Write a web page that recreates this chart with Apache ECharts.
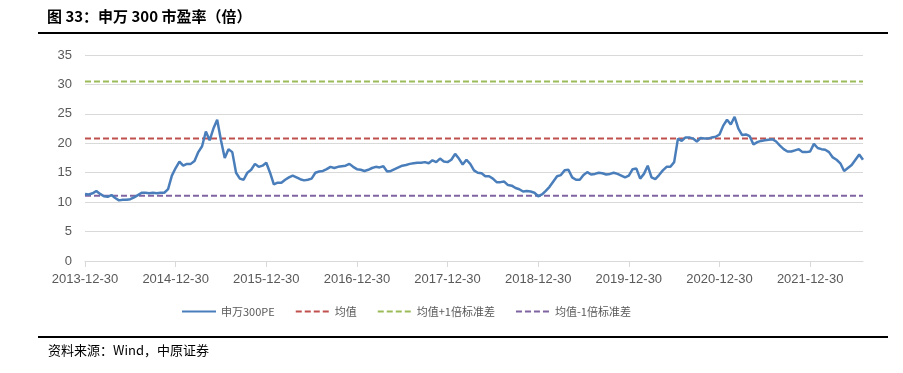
<!DOCTYPE html>
<html>
<head>
<meta charset="utf-8">
<script src="https://cdn.jsdelivr.net/npm/echarts@6/dist/echarts.min.js"></script>
<style>
html,body{margin:0;padding:0;background:#fff;}
#c{width:903px;height:373px;}
</style>
</head>
<body>
<div id="c"></div>
<script>
// Semi-monthly readings of 申万300 PE (倍)
var pe2014 = [11.4, 11.3, 11.5, 11.9, 11.4, 11.0, 10.9, 11.2, 10.7, 10.3, 10.4, 10.4, 10.5, 10.8, 11.2, 11.6, 11.6, 11.5, 11.6, 11.5, 11.6, 11.6, 12.2, 14.5, 15.8];
var pe2015 = [16.9, 16.2, 16.5, 16.5, 17.0, 18.5, 19.5, 22.0, 20.5, 22.5, 24.0, 20.5, 17.5, 19.0, 18.5, 15.0, 14.0, 13.8, 15.0, 15.5, 16.5, 16.0, 16.2, 16.7];
var pe2016 = [15.0, 13.0, 13.3, 13.3, 13.8, 14.2, 14.5, 14.2, 13.9, 13.7, 13.8, 14.0, 15.0, 15.2, 15.3, 15.6, 16.0, 15.8, 16.0, 16.1, 16.2, 16.5, 16.0, 15.6];
var pe2017 = [15.5, 15.3, 15.5, 15.8, 16.0, 15.9, 16.1, 15.2, 15.3, 15.6, 15.9, 16.2, 16.3, 16.5, 16.6, 16.7, 16.7, 16.8, 16.6, 17.1, 16.8, 17.4, 16.9, 16.8];
var pe2018 = [17.2, 18.2, 17.4, 16.4, 17.2, 16.5, 15.4, 15.0, 14.9, 14.4, 14.4, 14.0, 13.4, 13.4, 13.5, 12.9, 12.8, 12.4, 12.2, 11.8, 11.9, 11.8, 11.6, 11.0];
var pe2019 = [11.3, 11.9, 12.6, 13.5, 14.4, 14.6, 15.4, 15.5, 14.2, 13.8, 13.8, 14.6, 15.1, 14.7, 14.8, 15.0, 14.9, 14.7, 14.8, 15.0, 14.8, 14.5, 14.2, 14.5];
var pe2020 = [15.6, 15.7, 14.0, 14.8, 16.2, 14.2, 13.9, 14.6, 15.4, 16.0, 16.0, 16.8, 20.8, 20.4, 21.0, 21.0, 20.8, 20.3, 20.9, 20.8, 20.8, 21.0, 21.1, 21.5];
var pe2021 = [23.0, 24.0, 23.2, 24.5, 22.5, 21.4, 21.5, 21.2, 19.8, 20.2, 20.4, 20.5, 20.6, 20.7, 20.3, 19.6, 19.0, 18.6, 18.6, 18.8, 19.0, 18.5, 18.5, 18.6];
var pe2022 = [19.9, 19.2, 19.0, 18.9, 18.5, 17.6, 17.2, 16.6, 15.3, 15.8, 16.3, 17.2, 18.1, 17.2];

var meanPE = 20.8;
var upperPE = 30.5;
var lowerPE = 11.1;

var seriesNames = ['申万300PE', '均值', '均值+1倍标准差', '均值-1倍标准差'];
var yTicks = [0, 5, 10, 15, 20, 25, 30, 35];

var peValues = [].concat(pe2014, pe2015, pe2016, pe2017, pe2018, pe2019, pe2020, pe2021, pe2022);

// category dates: 2013-12-30 then the 15th and month-end of each month
var dates = ['2013-12-30'];
(function(){
  var y = 2014, m = 1;
  while (dates.length < peValues.length) {
    var mm = (m < 10 ? '0' : '') + m;
    dates.push(y + '-' + mm + '-15');
    if (dates.length < peValues.length) dates.push(y + '-' + mm + '-' + (m === 2 ? '28' : '30'));
    m++; if (m > 12) { m = 1; y++; }
  }
})();

var first = dates[0], last = dates[dates.length - 1];
function hline(v){ return [[first, v], [last, v]]; }

var chart = echarts.init(document.getElementById('c'), null, {renderer: 'canvas'});
var isYear = function(idx, val){ return /12-30$/.test(val); };

chart.setOption({
  animation: false,
  backgroundColor: '#ffffff',
  textStyle: {fontFamily: 'Liberation Sans, Arial, sans-serif'},
  grid: {left: 85, right: 40, top: 55, bottom: 112, containLabel: false},
  xAxis: {
    type: 'category',
    data: dates,
    boundaryGap: false,
    axisLine: {lineStyle: {color: '#d9d9d9', width: 1}},
    axisTick: {show: true, interval: isYear, length: 6, lineStyle: {color: '#d9d9d9'}},
    axisLabel: {interval: isYear, color: '#595959', fontSize: 13, margin: 12, fontFamily: 'Liberation Sans'},
    splitLine: {show: false}
  },
  yAxis: {
    type: 'value',
    min: yTicks[0], max: yTicks[yTicks.length - 1], interval: 5,
    axisLine: {show: false},
    axisTick: {show: false},
    axisLabel: {color: '#595959', fontSize: 13, margin: 13, fontFamily: 'Liberation Sans'},
    splitLine: {lineStyle: {color: '#d9d9d9', width: 1}}
  },
  legend: {
    left: 176, top: 301,
    itemWidth: 34, itemHeight: 10, itemGap: 20,
    itemStyle: {opacity: 0},
    textStyle: {color: '#595959', fontSize: 11, fontFamily: 'Noto Sans CJK SC'},
    data: seriesNames
  },
  series: [
    {name: seriesNames[0], type: 'line', data: peValues, symbol: 'none', z: 5,
     lineStyle: {color: '#4a7ebb', width: 2.5}, itemStyle: {color: '#4a7ebb'}},
    {name: seriesNames[1], type: 'line', data: hline(meanPE), symbol: 'none',
     lineStyle: {color: '#c0504d', width: 2, type: [6, 3]}, itemStyle: {color: '#c0504d'}},
    {name: seriesNames[2], type: 'line', data: hline(upperPE), symbol: 'none',
     lineStyle: {color: '#9bbb59', width: 2, type: [6, 3]}, itemStyle: {color: '#9bbb59'}},
    {name: seriesNames[3], type: 'line', data: hline(lowerPE), symbol: 'none',
     lineStyle: {color: '#8064a2', width: 2, type: [6, 3]}, itemStyle: {color: '#8064a2'}}
  ],
  graphic: [
    {type: 'text', left: 47, top: 9, style: {text: '图 33：申万 300 市盈率（倍）', fill: '#000', font: 'bold 15px "Noto Sans CJK SC", sans-serif'}},
    {type: 'rect', shape: {x: 38, y: 32, width: 850, height: 2}, style: {fill: '#000'}},
    {type: 'rect', shape: {x: 38, y: 336, width: 850, height: 2}, style: {fill: '#000'}},
    {type: 'text', left: 48, top: 344, style: {text: '资料来源：Wind，中原证券', fill: '#000', font: '13px "Noto Sans CJK SC", sans-serif'}}
  ]
});
</script>
</body>
</html>
